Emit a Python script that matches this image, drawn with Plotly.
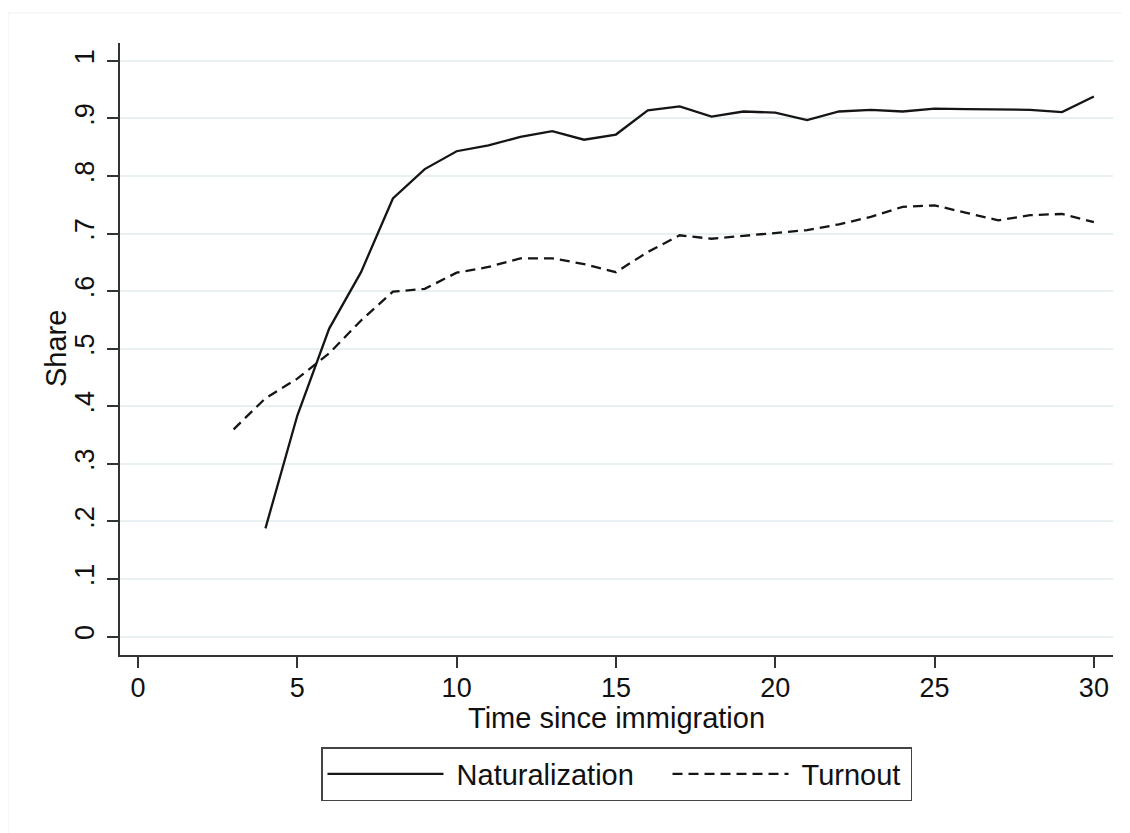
import plotly.graph_objects as go

# ---- data ----
years_nat = list(range(4, 31))
naturalization = [0.188, 0.384, 0.535, 0.633, 0.761, 0.812, 0.843, 0.853, 0.868,
                  0.878, 0.863, 0.872, 0.914, 0.921, 0.903, 0.912, 0.910, 0.897,
                  0.912, 0.915, 0.912, 0.917, 0.916, 0.916, 0.915, 0.911, 0.938]
years_turn = list(range(3, 31))
turnout = [0.360, 0.414, 0.448, 0.492, 0.549, 0.599, 0.604, 0.632, 0.642, 0.657,
           0.657, 0.647, 0.633, 0.668, 0.697, 0.691, 0.696, 0.701, 0.706, 0.716,
           0.729, 0.7465, 0.749, 0.736, 0.723, 0.732, 0.734, 0.720]

x_ticks = [0, 5, 10, 15, 20, 25, 30]
y_ticks = [0, 0.1, 0.2, 0.3, 0.4, 0.5, 0.6, 0.7, 0.8, 0.9, 1.0]
y_tick_labels = ["0", ".1", ".2", ".3", ".4", ".5", ".6", ".7", ".8", ".9", "1"]

FONT = "Liberation Sans, Arial, sans-serif"
FS = 27

# figure is offset by the 8px default page margin
W, H = 1122, 825
ML, MR, MT, MB = 112, 17, 35, 178
PW, PH = W - ML - MR, H - MT - MB

fig = go.Figure()
fig.add_trace(go.Scatter(x=years_nat, y=naturalization, mode="lines",
                         name="\u00a0Naturalization", legendwidth=214,
                         line=dict(color="#151515", width=2.3)))
fig.add_trace(go.Scatter(x=years_turn, y=turnout, mode="lines",
                         name="\u00a0Turnout", legendwidth=112,
                         line=dict(color="#151515", width=2.3, dash="10px,6px")))

fig.update_layout(
    width=W, height=H,
    margin=dict(l=ML, r=MR, t=MT, b=MB),
    paper_bgcolor="white", plot_bgcolor="white",
    font=dict(family=FONT, size=FS, color="#111"),
    showlegend=True,
    legend=dict(orientation="h", x=0.5, xanchor="center",
                y=(PH - (739 - MT)) / PH, yanchor="top",
                bordercolor="#444", borderwidth=1.5, bgcolor="white",
                font=dict(family=FONT, size=29, color="#111"),
                itemwidth=116, traceorder="normal"),
    xaxis=dict(range=[-0.565, 30.6], tickvals=x_ticks, ticks="outside", ticklen=11,
               tickcolor="#333", tickwidth=1.5, showline=True, linecolor="#333",
               linewidth=1.5, showgrid=False, zeroline=False,
               ticklabelstandoff=-3),
    yaxis=dict(range=[-0.032, 1.031], tickvals=y_ticks, ticktext=y_tick_labels,
               tickangle=-90, ticks="outside", ticklen=11, tickcolor="#333",
               tickwidth=1.5, showline=True, linecolor="#333", linewidth=1.5,
               showgrid=True, gridcolor="#e8f0f2", gridwidth=1.5, zeroline=False,
               ticklabelstandoff=2),
)

# axis titles
fig.add_annotation(text="Share", xref="paper", yref="paper",
                   x=(48 - ML) / PW, y=0.5, xanchor="center", yanchor="middle",
                   textangle=-90, showarrow=False,
                   font=dict(family=FONT, size=29, color="#111"))
fig.add_annotation(text="Time since immigration", xref="paper", yref="paper",
                   x=0.5, y=(PH - (710 - MT)) / PH, xanchor="center", yanchor="middle",
                   showarrow=False, font=dict(family=FONT, size=29, color="#111"))

# faint outer graph-region frame
fig.add_shape(type="rect", xref="paper", yref="paper",
              x0=(0 - ML) / PW, x1=(W + 20 - ML) / PW,
              y0=(PH - (H + 20 - MT)) / PH, y1=(PH - (5 - MT)) / PH,
              line=dict(color="#f0f0f0", width=1), layer="below")

fig.write_html("out.html")
